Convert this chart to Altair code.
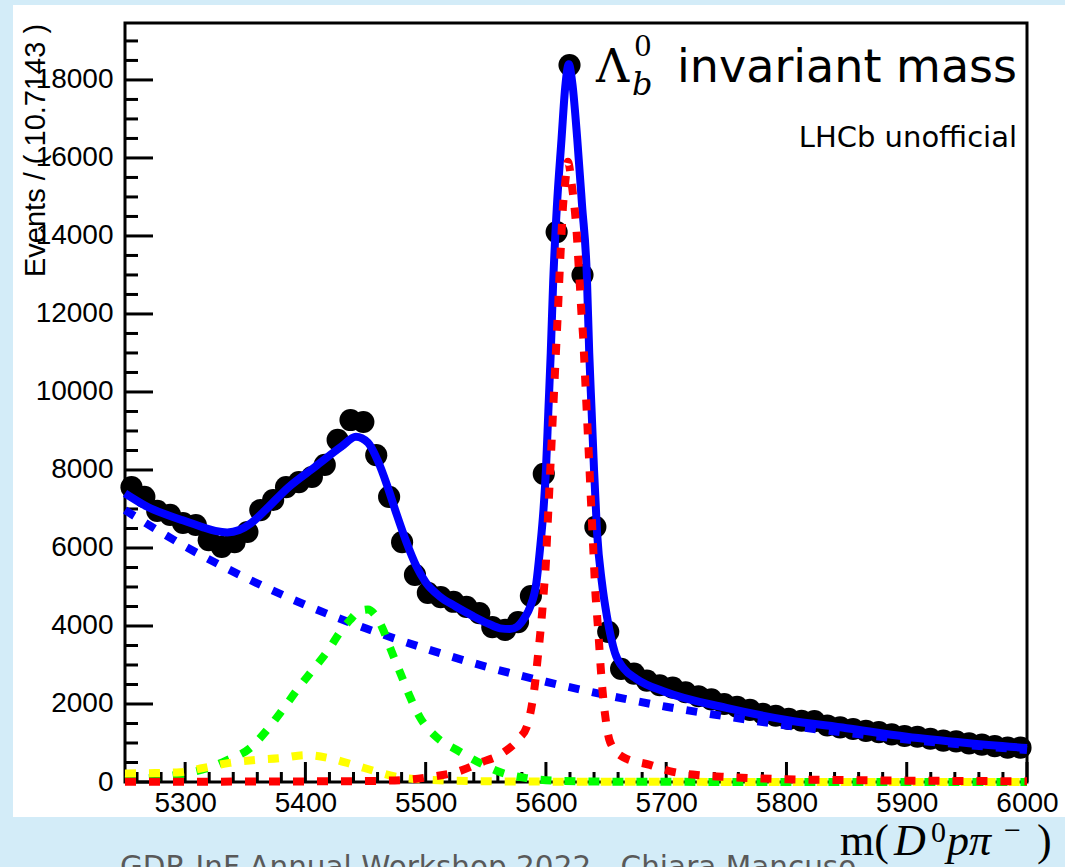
import altair as alt
import pandas as pd

# ---------------- data ----------------
bin_centers = [5255.4, 5266.1, 5276.8, 5287.5, 5298.2, 5308.9, 5319.6, 5330.4, 5341.1, 5351.8,
               5362.5, 5373.2, 5383.9, 5394.6, 5405.4, 5416.1, 5426.8, 5437.5, 5448.2, 5458.9,
               5469.6, 5480.4, 5491.1, 5501.8, 5512.5, 5523.2, 5533.9, 5544.6, 5555.4, 5566.1,
               5576.8, 5587.5, 5598.2, 5608.9, 5619.6, 5630.4, 5641.1, 5651.8, 5662.5, 5673.2,
               5683.9, 5694.6, 5705.4, 5716.1, 5726.8, 5737.5, 5748.2, 5758.9, 5769.6, 5780.4,
               5791.1, 5801.8, 5812.5, 5823.2, 5833.9, 5844.6, 5855.4, 5866.1, 5876.8, 5887.5,
               5898.2, 5908.9, 5919.6, 5930.4, 5941.1, 5951.8, 5962.5, 5973.2, 5983.9, 5994.6]
events = [7560, 7310, 6950, 6850, 6640, 6590, 6200, 6030, 6150, 6410,
          6970, 7230, 7560, 7690, 7820, 8130, 8770, 9280, 9230, 8380,
          7310, 6150, 5310, 4850, 4740, 4620, 4490, 4330, 3970, 3900,
          4100, 4770, 7900, 14100, 18380, 13000, 6540, 3850, 2900, 2780,
          2600, 2480, 2420, 2300, 2200, 2120, 2000, 1930, 1850, 1750,
          1700, 1620, 1570, 1560, 1450, 1400, 1360, 1310, 1280, 1220,
          1180, 1160, 1110, 1060, 1040, 990, 960, 920, 880, 880]

fit_x = [5250, 5269, 5297, 5315, 5325, 5335, 5345, 5355, 5366, 5386, 5408, 5430, 5442, 5452,
         5460, 5468, 5476, 5484, 5492, 5500, 5512, 5525, 5539, 5552, 5562, 5570, 5576, 5582,
         5587, 5592, 5595, 5598, 5600, 5602, 5604, 5606, 5609, 5613, 5616, 5619, 5622, 5626,
         5630, 5634, 5636, 5638, 5640, 5642.5, 5646.6, 5650.8, 5657.4, 5665, 5675, 5700, 5750,
         5800, 5850, 5900, 5950, 6000]
fit_y = [7400, 7050, 6720, 6530, 6440, 6400, 6460, 6640, 6950, 7560, 8080, 8600, 8850, 8700,
         8250, 7600, 6850, 6150, 5550, 5120, 4750, 4500, 4260, 4060, 3940, 3920, 3980, 4200,
         4500, 5100, 5950, 7000, 8000, 9500, 11000, 12800, 14700, 16500, 17800, 18400, 17900, 16500,
         14800, 13000, 11000, 9500, 8000, 6400, 5100, 4230, 3310, 2900, 2650, 2300, 1900,
         1590, 1380, 1160, 1000, 870]

bkg_x = [5250, 5300, 5350, 5400, 5450, 5500, 5550, 5600, 5650, 5700, 5750, 5800, 5850, 5900, 5950, 6000]
bkg_y = [6970, 6040, 5240, 4540, 3940, 3420, 2960, 2570, 2230, 1930, 1680, 1450, 1260, 1090, 950, 820]

green_x = [5250, 5280, 5300, 5320, 5335, 5354, 5368, 5381, 5394, 5406, 5419, 5429, 5437, 5445,
           5452, 5458, 5464, 5471, 5479, 5487, 5495, 5509, 5526, 5545, 5564, 5584, 5610, 5650,
           5700, 5800, 5900, 6000]
green_y = [60, 130, 220, 370, 560, 870, 1330, 1850, 2400, 2870, 3380, 3850, 4150, 4380,
           4420, 4280, 3950, 3400, 2790, 2180, 1670, 1150, 820, 490, 230, 100, 30, 10,
           5, 0, 0, 0]

yellow_x = [5250, 5275, 5296, 5315, 5337, 5356, 5379, 5400, 5420, 5440, 5460, 5476, 5500,
            5550, 5600, 5700, 5800, 5900, 6000]
yellow_y = [220, 230, 250, 360, 490, 560, 610, 690, 610, 440, 260, 130, 60,
            20, 10, 5, 0, 0, 0]

red_x = [5250, 5300, 5400, 5450, 5481, 5504, 5526, 5545, 5564, 5578, 5584, 5588, 5591, 5593,
         5595, 5597, 5598.5, 5600, 5601, 5602, 5603, 5604, 5605, 5606, 5607, 5608, 5609, 5610,
         5611, 5612, 5613, 5614, 5616, 5618.3, 5621.7, 5624.2, 5625.8, 5627, 5628.3, 5629.5,
         5631, 5632, 5633, 5634, 5635, 5636, 5637, 5638, 5639, 5640, 5641, 5642.5, 5644,
         5645.5, 5647, 5649, 5653.3, 5664, 5686.5, 5705.6, 5725.6, 5750.5, 5772, 5800, 5850,
         5900, 5950, 6000]
red_y = [5, 8, 15, 25, 50, 130, 260, 490, 740, 1130, 1410, 1920, 2540, 3130,
         3720, 4400, 5000, 5640, 6330, 6970, 7620, 8260, 8900, 9540, 10180, 10820, 11460, 12100,
         12800, 13460, 14080, 14670, 15360, 15900, 15260, 14590, 13970, 13330, 12690, 12030,
         11380, 10740, 10100, 9460, 8820, 8180, 7490, 6850, 6200, 5560, 4920, 4280, 3640,
         2950, 2360, 1770, 1030, 640, 440, 260, 180, 130, 100, 70, 50,
         35, 25, 20]

x_major = [5300, 5400, 5500, 5600, 5700, 5800, 5900, 6000]
x_minor = [v for v in range(5260, 6000, 20) if v % 100 != 0]
y_major = list(range(0, 18001, 2000))
y_minor = [v for v in range(500, 19001, 500) if v % 2000 != 0]

# ---------------- layout ----------------
W, H = 902, 759
XMIN, XMAX = 5250, 6000
YMAX = 19460
LIGHT_BLUE = "#d3ecf8"

xs = alt.Scale(domain=[XMIN, XMAX], nice=False, zero=False)
ys = alt.Scale(domain=[0, YMAX], nice=False, zero=True)
xaxis = alt.Axis(values=x_major, format="d", ticks=False, domain=False, grid=False,
                 labelFont="Liberation Sans", labelFontSize=28, labelColor="black",
                 labelPadding=7, title="", labelFlush=False, zindex=2)
yaxis = alt.Axis(values=y_major, format="d", ticks=False, domain=False, grid=False,
                 labelFont="Liberation Sans", labelFontSize=28, labelColor="black",
                 labelPadding=12, title="", labelFlush=False, zindex=2)


def X(f="x"):
    return alt.X(f + ":Q", scale=xs, axis=xaxis)


def Y(f="y"):
    return alt.Y(f + ":Q", scale=ys, axis=yaxis)


one = pd.DataFrame({"a": [0]})

panel = alt.Chart(one).mark_rect(fill="white").encode(
    x=alt.value(-112), x2=alt.value(940), y=alt.value(-18), y2=alt.value(794))

xmaj = alt.Chart(pd.DataFrame({"x": x_major})).mark_rule(color="black", strokeWidth=3).encode(
    x=X(), y=alt.value(H), y2=alt.value(H - 20))
xmin_ = alt.Chart(pd.DataFrame({"x": x_minor})).mark_rule(color="black", strokeWidth=3).encode(
    x=X(), y=alt.value(H), y2=alt.value(H - 10))
ymaj = alt.Chart(pd.DataFrame({"y": y_major})).mark_rule(color="black", strokeWidth=3).encode(
    y=Y(), x=alt.value(0), x2=alt.value(28))
ymin_ = alt.Chart(pd.DataFrame({"y": y_minor})).mark_rule(color="black", strokeWidth=3).encode(
    y=Y(), x=alt.value(0), x2=alt.value(13))

frame = alt.Chart(one).mark_rect(fillOpacity=0, stroke="black", strokeWidth=3).encode(
    x=alt.value(0), x2=alt.value(W), y=alt.value(0), y2=alt.value(H))

pts = alt.Chart(pd.DataFrame({"x": bin_centers, "y": events})).mark_circle(
    color="black", opacity=1, size=490).encode(x=X(), y=Y())

fit = alt.Chart(pd.DataFrame({"x": fit_x, "y": fit_y})).mark_line(
    color="#0000ff", strokeWidth=8, interpolate="monotone").encode(x=X(), y=Y())


def dashed(xv, yv, col):
    return alt.Chart(pd.DataFrame({"x": xv, "y": yv})).mark_line(
        color=col, strokeWidth=8, strokeDash=[11, 13], strokeCap="butt",
        interpolate="monotone").encode(x=X(), y=Y())


bkg = dashed(bkg_x, bkg_y, "#0000ff")
grn = dashed(green_x, green_y, "#00ff00")
yel = dashed(yellow_x, yellow_y, "#ffff00")
red = dashed(red_x, red_y, "#ff0000")


def txt(t, px, py, size, font="DejaVu Sans", align="left", style="normal", color="black", angle=0):
    kw = dict(text=t, font=font, fontSize=size, align=align, baseline="alphabetic",
              color=color, fontStyle=style)
    if angle:
        kw["angle"] = angle
    return alt.Chart(one).mark_text(**kw).encode(x=alt.value(px - 125), y=alt.value(py - 23))


texts = [
    txt("Events / ( 10.7143 )", 45, 277, 29, font="Liberation Sans", angle=270),
    txt("Λ", 596, 82, 46, font="DejaVu Serif"),
    txt("0", 634, 56, 28, font="DejaVu Serif"),
    txt("b", 632, 95, 32, font="DejaVu Serif", style="italic"),
    txt("invariant mass", 1017, 82, 46, align="right"),
    txt("LHCb unofficial", 1017, 147, 29, align="right"),
    txt("GDR-InF Annual Workshop 2022 - Chiara Mancuso", 120, 877, 29.5, color="#595959"),
    txt("m(", 840, 855, 44, font="Liberation Serif"),
    txt("D", 894, 855, 44, font="Liberation Serif", style="italic"),
    txt("0", 931, 842, 30, font="Liberation Serif"),
    txt("pπ", 947, 855, 44, font="Liberation Serif", style="italic"),
    txt("−", 1004, 840, 30, font="Liberation Serif"),
    txt(")", 1037, 855, 44, font="Liberation Serif"),
]

chart = alt.layer(panel, xmin_, xmaj, ymin_, ymaj, frame, pts, fit, bkg, grn, yel, red, *texts).properties(
    width=W, height=H,
    autosize=alt.AutoSizeParams(type="none"),
    padding={"left": 125, "top": 23, "right": 38, "bottom": 85},
).configure(background=LIGHT_BLUE).configure_view(stroke=None)

chart.save("out.html", embed_options={"renderer": "svg", "actions": False})
